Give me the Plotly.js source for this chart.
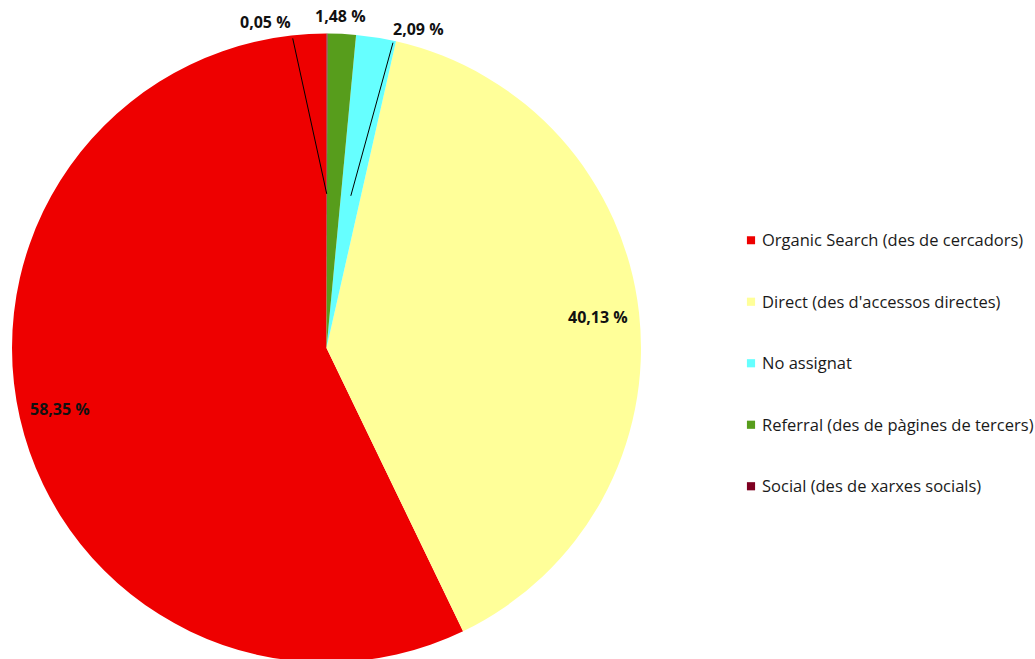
<!DOCTYPE html>
<html>
<head>
<meta charset="utf-8">
<script src="https://cdn.plot.ly/plotly-3.0.1.min.js"></script>
<style>
html,body{margin:0;padding:0;overflow:hidden;background:#fff;}
#chart{width:1060px;height:665px;}
</style>
</head>
<body>
<div id="chart"></div>
<script>
const categories = [
  'Organic Search (des de cercadors)',
  "Direct (des d'accessos directes)",
  'No assignat',
  'Referral (des de pàgines de tercers)',
  'Social (des de xarxes socials)'
];
const percents = [58.35, 40.13, 2.09, 1.48, 0.05];
const colors = ['#ee0000', '#ffff99', '#66ffff', '#579d1c', '#7e0021'];

// Layout geometry (pixels); the canvas is a little wider/taller than the window so nothing pushes margins
const W = 1060, H = 665;
const CX = 326.5, CY = 348, R = 314.5;

// label placement tweaks for small slices (by slice index):
// angular nudge (deg, clockwise), and leader-line start offset from the label centre (px)
const smallLabelCfg = {
  2: {nudge: 7.0, tail: [-25, 12]},
  3: {nudge: -0.4, tail: null},
  4: {nudge: -10.7, tail: [27, 15]}
};

function fmt(p){ return p.toFixed(2).replace('.', ',') + ' %'; }

const total = percents.reduce((a,b)=>a+b,0);
const annotations = [];
let cum = 0;
percents.forEach((v,i)=>{
  const start = cum/total*360;
  const mid = start + v/total*180; // counterclockwise degrees from 12 o'clock
  cum += v;
  const dir = a => ({dx: -Math.sin(a*Math.PI/180), dy: -Math.cos(a*Math.PI/180)});
  const font = {family: 'Open Sans, sans-serif', size: 16, color: '#111111', weight: 'bold'};
  if (v/total > 0.1) {
    const d = dir(mid);
    const px = CX + 0.87*R*d.dx, py = CY + 0.87*R*d.dy;
    annotations.push({xref:'paper', yref:'paper', x: px/W, y: 1-py/H, text: '<b>'+fmt(v)+'</b>',
      showarrow:false, font: font, xanchor:'center', yanchor:'middle'});
  } else {
    const cfg = smallLabelCfg[i] || {nudge:0, tail:null};
    const d = dir(mid);
    const dl = dir(mid - cfg.nudge);
    const tx = CX + 1.055*R*dl.dx, ty = CY + 1.055*R*dl.dy;
    annotations.push({xref:'paper', yref:'paper', x: tx/W, y: 1-ty/H, text: '<b>'+fmt(v)+'</b>',
      showarrow:false, font: font, xanchor:'center', yanchor:'middle'});
    if (cfg.tail) {
      const hx = CX + 0.49*R*d.dx, hy = CY + 0.49*R*d.dy;
      const sx = tx + cfg.tail[0], sy = ty + cfg.tail[1];
      annotations.push({xref:'paper', yref:'paper', x: hx/W, y: 1-hy/H, text: '',
        showarrow:true, arrowhead:0, arrowwidth:1, arrowcolor:'#000000', standoff:0, startstandoff:0,
        ax: sx-hx, ay: sy-hy});
    }
  }
});

// In counterclockwise mode Plotly places the first slice clockwise of the rotation angle,
// so rotate back by the first slice's angle to make it start at 12 o'clock going left.
const firstAngle = percents[0]/total*360;

const trace = {
  type: 'pie',
  labels: categories.map(c => '<br><span style="font-size:16.5px">' + c + '</span><br> '),
  values: percents,
  sort: false,
  direction: 'counterclockwise',
  rotation: -firstAngle,
  marker: {colors: colors, line: {width: 0}},
  textinfo: 'none',
  hoverinfo: 'none',
  domain: {x: [(CX-R)/W, (CX+R)/W], y: [1-(CY+R)/H, 1-(CY-R)/H]}
};

const layout = {
  width: W, height: H,
  margin: {l:0, r:0, t:0, b:0},
  paper_bgcolor: '#ffffff',
  showlegend: true,
  legend: {x: 722/W, xanchor:'left', y: 1-363.5/H, yanchor:'middle',
    font: {family:'Open Sans, sans-serif', size: 15, color:'#1a1a1a'},
    bgcolor:'rgba(0,0,0,0)'},
  annotations: annotations
};

Plotly.newPlot('chart', [trace], layout, {displayModeBar:false, staticPlot:true}).then(gd => {
  gd.querySelectorAll('.legend .legendpoints').forEach(g => {
    g.setAttribute('transform', 'translate(9,0)');
    g.querySelectorAll('path').forEach(p => {
      const t = p.getAttribute('transform') || '';
      p.setAttribute('transform', t + ' scale(0.68)');
    });
  });
});
</script>
</body>
</html>
